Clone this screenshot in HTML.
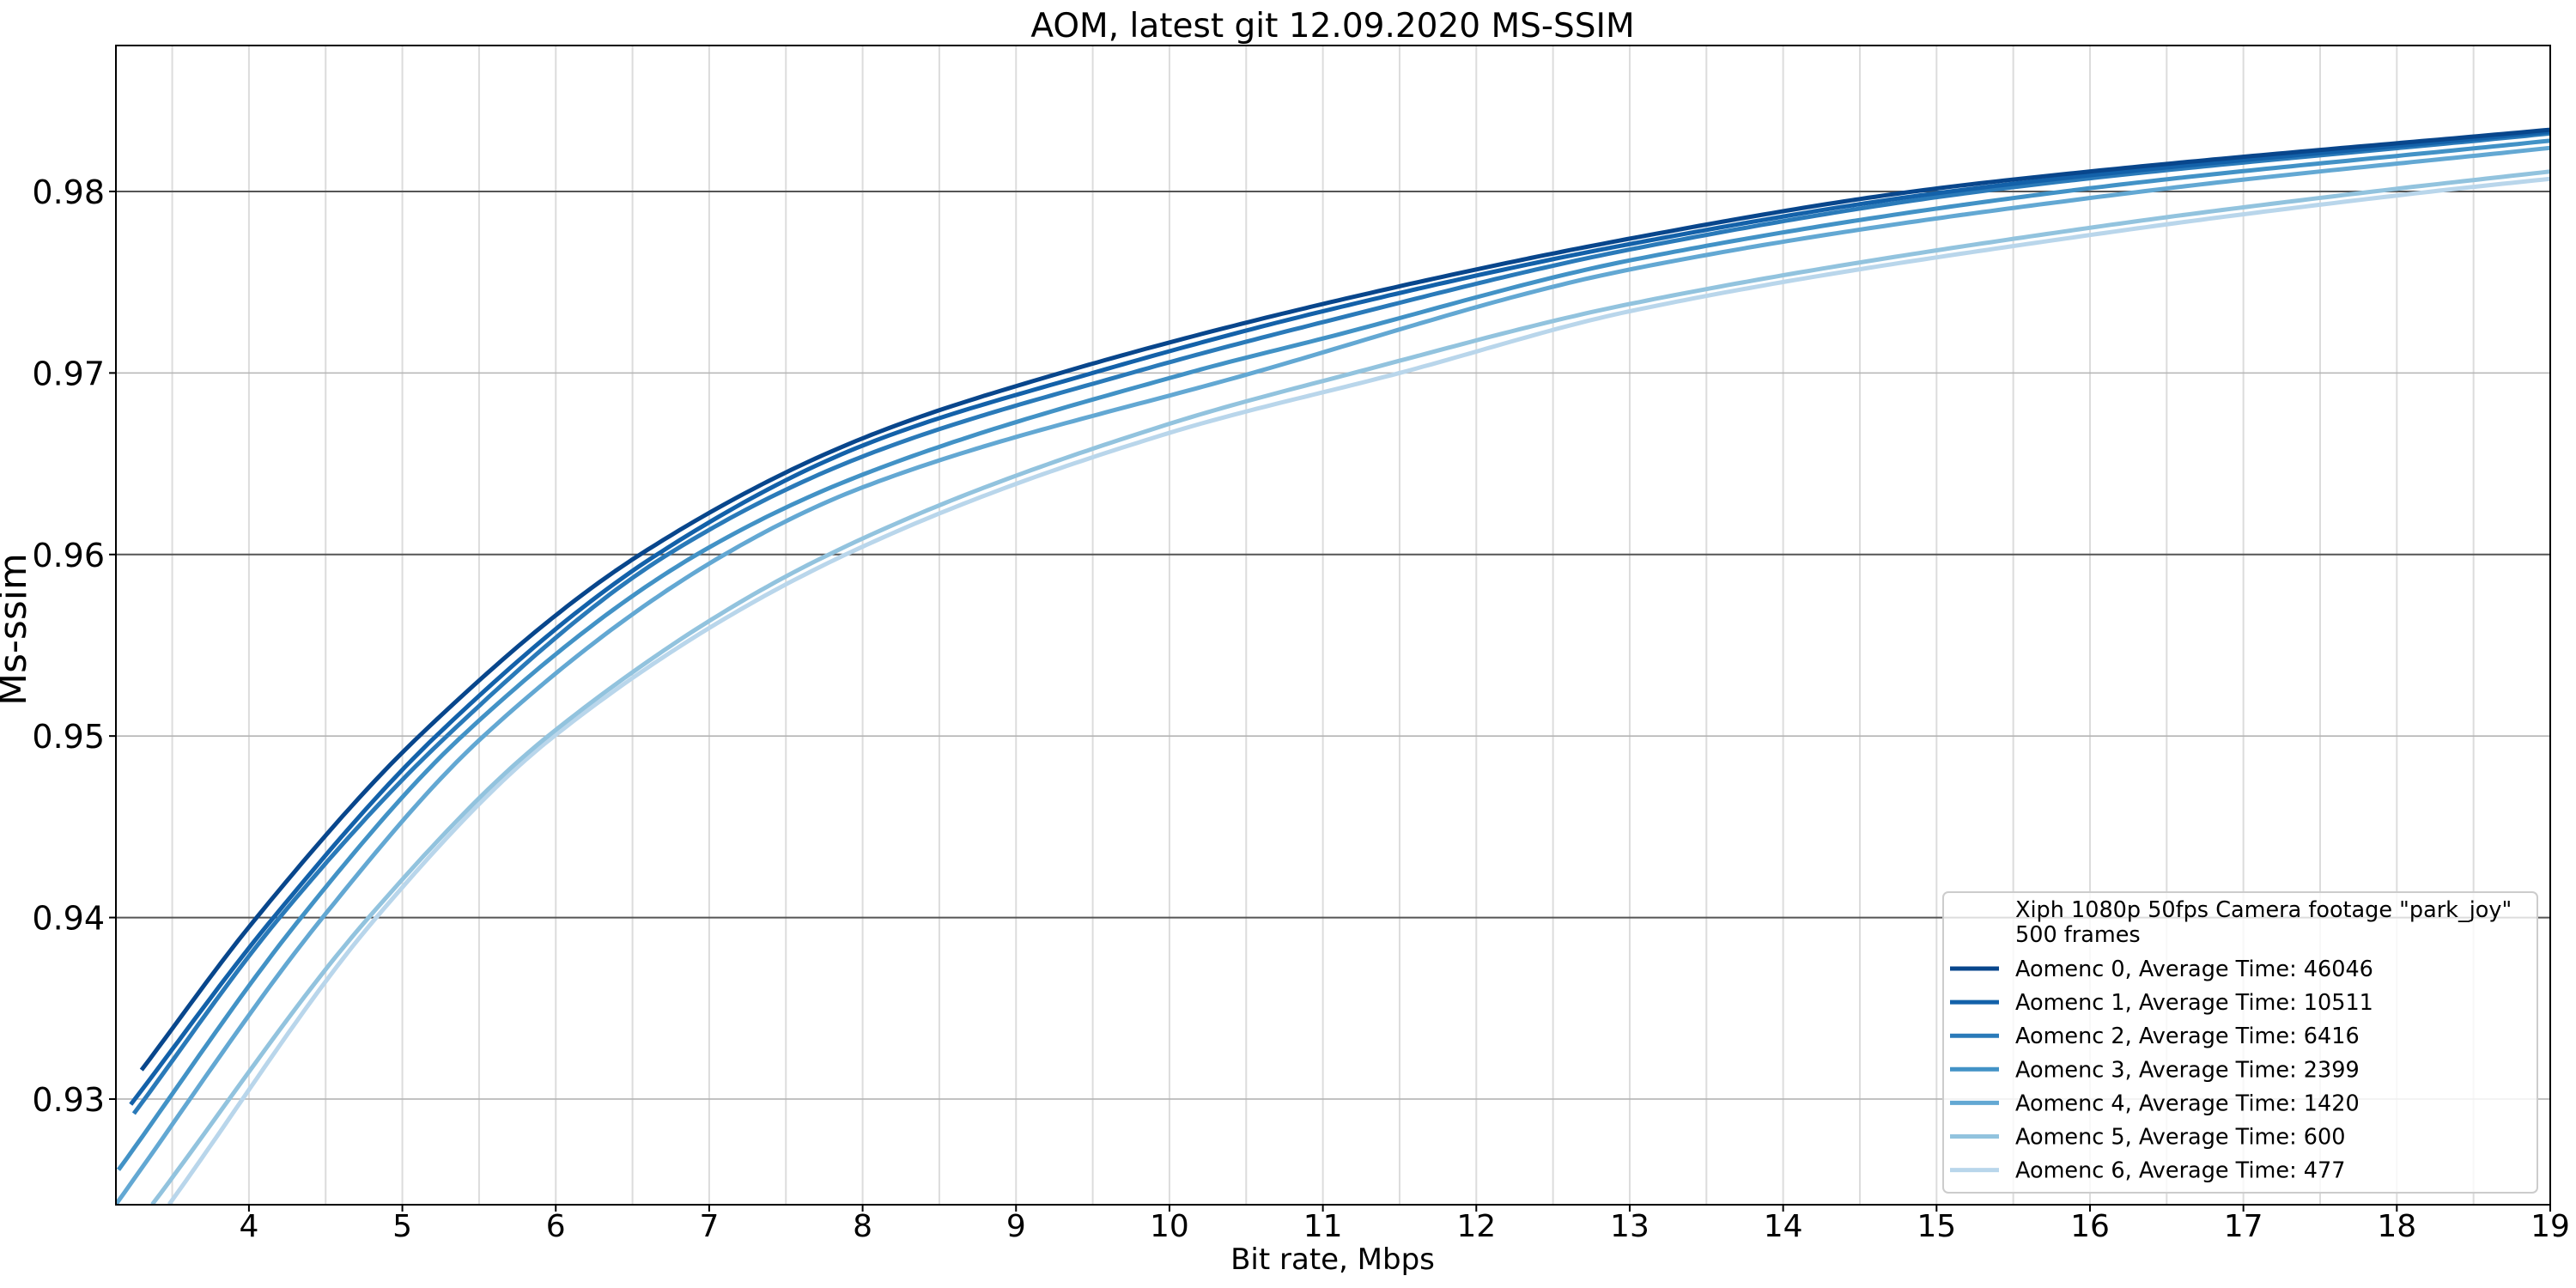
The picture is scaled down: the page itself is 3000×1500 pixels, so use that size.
<!DOCTYPE html>
<html><head><meta charset="utf-8"><style>
html,body{margin:0;padding:0;background:#fff;}
svg{display:block;font-family:"DejaVu Sans","Liberation Sans",sans-serif;}
</style></head><body>
<svg id="chart" width="3000" height="1500" viewBox="0 0 3000 1500" xmlns="http://www.w3.org/2000/svg">
<rect x="0" y="0" width="3000" height="1500" fill="#fff"/>
<g id="grid"></g>
<g id="series"></g>
<g id="axes"></g>
<text x="1552" y="43" font-size="39" text-anchor="middle" fill="#000">AOM, latest git 12.09.2020 MS-SSIM</text>
<text x="1552" y="1478" font-size="34" text-anchor="middle" fill="#000">Bit rate, Mbps</text>
<text transform="translate(30,733) rotate(-90)" font-size="44" text-anchor="middle" fill="#000">Ms-ssim</text>
<g id="legend"></g>
</svg>
<script>
const seriesNames = ["Aomenc 0, Average Time: 46046","Aomenc 1, Average Time: 10511","Aomenc 2, Average Time: 6416","Aomenc 3, Average Time: 2399","Aomenc 4, Average Time: 1420","Aomenc 5, Average Time: 600","Aomenc 6, Average Time: 477"];
const s0x = [3.30,4.05,5.11,6.55,8,9.29,11,13,14.85,16,19];
const s0y = [0.9316,0.94,0.95,0.96,0.9664,0.97,0.9738,0.9774,0.98,0.9811,0.9834];
const s1x = [3.23,4.16,5.22,6.66,8,9.5,11,13,15.09,19];
const s1y = [0.9297,0.94,0.95,0.96,0.9660,0.97,0.9734,0.9771,0.98,0.9833];
const s2x = [3.25,4.2,5.29,6.73,8,9.75,11,13,15.28,19];
const s2y = [0.9292,0.94,0.95,0.96,0.9654,0.97,0.9728,0.9768,0.98,0.9832];
const s3x = [3.15,4.34,5.39,6.92,8,10.12,11,13,15.83,19];
const s3y = [0.9261,0.94,0.95,0.96,0.9644,0.97,0.9719,0.9762,0.98,0.9828];
const s4x = [3.133,4.48,5.53,7.1,8,10.54,13,16.34,19];
const s4y = [0.9242,0.94,0.95,0.96,0.9637,0.97,0.9757,0.98,0.9824];
const s5x = [3.37,4.78,5.95,7.78,10,11.2,13,16,17.85,19];
const s5y = [0.9242,0.94,0.95,0.96,0.9672,0.97,0.9738,0.9780,0.98,0.9811];
const s6x = [3.48,4.83,5.99,7.89,10,11.5,13,16,18.23,19];
const s6y = [0.9242,0.94,0.95,0.96,0.9667,0.97,0.9734,0.9776,0.98,0.9807];
const xTicks = [4,5,6,7,8,9,10,11,12,13,14,15,16,17,18,19];
const yMajorTicks = [0.94,0.96,0.98];
const yMinorTicks = [0.93,0.95,0.97];
const yTickLabels = ["0.93","0.94","0.95","0.96","0.97","0.98"];
const yTickValues = [0.93,0.94,0.95,0.96,0.97,0.98];

const colors = ["#08468c","#1361a9","#2a7ab9","#4292c6","#63a8d3","#92c3de","#b9d6eb"];
const X0=135,X1=2970,Y0=1403,Y1=53, xmin=3.133,xmax=19, ymin=0.92418, ymax=0.98804;
const sx=v=>X0+(v-xmin)/(xmax-xmin)*(X1-X0);
const sy=v=>Y0-(v-ymin)/(ymax-ymin)*(Y0-Y1);
const NS="http://www.w3.org/2000/svg";
function mk(tag,attrs,parent){const e=document.createElementNS(NS,tag);for(const k in attrs)e.setAttribute(k,attrs[k]);parent.appendChild(e);return e;}
const grid=document.getElementById('grid'),axes=document.getElementById('axes'),ser=document.getElementById('series'),leg=document.getElementById('legend');

for(let v=3.5;v<=19.001;v+=0.5){
  const l=mk('line',{x1:sx(v),x2:sx(v),y1:Y1,y2:Y0,stroke:'#dcdcdc','stroke-width':2},grid);
  
  
}
yMinorTicks.forEach(v=>{
  const l=mk('line',{x1:X0,x2:X1,y1:sy(v),y2:sy(v),stroke:'#b4b4b4','stroke-width':1.6},grid);
  
  
});
yMajorTicks.forEach(v=>{
  const l=mk('line',{x1:X0,x2:X1,y1:sy(v),y2:sy(v),stroke:'#555','stroke-width':2},grid);
  
  
});

function monotone(xs,ys){
  const n=xs.length,d=[],m=new Array(n);
  for(let i=0;i<n-1;i++)d.push((ys[i+1]-ys[i])/(xs[i+1]-xs[i]));
  m[0]=d[0];m[n-1]=d[n-2];
  for(let i=1;i<n-1;i++){ if(d[i-1]*d[i]<=0)m[i]=0; else { const w1=2*(xs[i+1]-xs[i])+(xs[i]-xs[i-1]), w2=(xs[i+1]-xs[i])+2*(xs[i]-xs[i-1]); m[i]=(w1+w2)/(w1/d[i-1]+w2/d[i]); } }
  return function(x){
    let i=0; while(i<n-2 && x>xs[i+1])i++;
    const h=xs[i+1]-xs[i],t=(x-xs[i])/h,t2=t*t,t3=t2*t;
    return (2*t3-3*t2+1)*ys[i]+(t3-2*t2+t)*h*m[i]+(-2*t3+3*t2)*ys[i+1]+(t3-t2)*h*m[i+1];
  };
}
const allX=[s0x,s1x,s2x,s3x,s4x,s5x,s6x], allY=[s0y,s1y,s2y,s3y,s4y,s5y,s6y];
const clip=mk('clipPath',{id:'plotclip'},mk('defs',{},ser));
mk('rect',{x:X0,y:Y1,width:X1-X0,height:Y0-Y1},clip);
for(let k=6;k>=0;k--){
  const xs=allX[k],ys=allY[k],f=monotone(xs,ys);
  let d='';const N=300;
  for(let i=0;i<=N;i++){const x=xs[0]+(xs[xs.length-1]-xs[0])*i/N;d+=(i?'L':'M')+sx(x).toFixed(1)+','+sy(f(x)).toFixed(1);}
  const p=mk('path',{d:d,fill:'none',stroke:colors[k],'stroke-width':5,'clip-path':'url(#plotclip)','stroke-linejoin':'round'},ser);
  
  
}

const fr=mk('rect',{x:X0,y:Y1,width:X1-X0,height:Y0-Y1,fill:'none',stroke:'#000','stroke-width':2},axes);


xTicks.forEach(v=>{
  const t=mk('line',{x1:sx(v),x2:sx(v),y1:Y0,y2:Y0+8,stroke:'#000','stroke-width':2},axes);
  
  
  const tx=mk('text',{x:sx(v),y:1440,'font-size':36,'text-anchor':'middle',fill:'#000'},axes);
  tx.textContent=String(v);
  
  
});
yTickValues.forEach((v,i)=>{
  const t=mk('line',{x1:X0-8,x2:X0,y1:sy(v),y2:sy(v),stroke:'#000','stroke-width':2},axes);
  
  
  const tx=mk('text',{x:122,y:sy(v)+14,'font-size':38,'text-anchor':'end',fill:'#000'},axes);
  tx.textContent=yTickLabels[i];
  
  
});

const box=mk('rect',{x:2263,y:1039,width:692,height:350,rx:6,fill:'rgba(255,255,255,0.8)',stroke:'#cccccc','stroke-width':2},leg);


const h1=mk('text',{x:2347,y:1068,'font-size':25.5,fill:'#000'},leg);
h1.textContent='Xiph 1080p 50fps Camera footage "park_joy"';


const h2=mk('text',{x:2347,y:1097,'font-size':25.5,fill:'#000'},leg);
h2.textContent='500 frames';


seriesNames.forEach((nm,k)=>{
  const yy=1128+k*39.1;
  const ln=mk('line',{x1:2271,x2:2328,y1:yy,y2:yy,stroke:colors[k],'stroke-width':5},leg);
  
  
  const tx=mk('text',{x:2347,y:yy+9,'font-size':25.5,fill:'#000'},leg);
  tx.textContent=nm;
  
  
});
</script>
</body></html>
